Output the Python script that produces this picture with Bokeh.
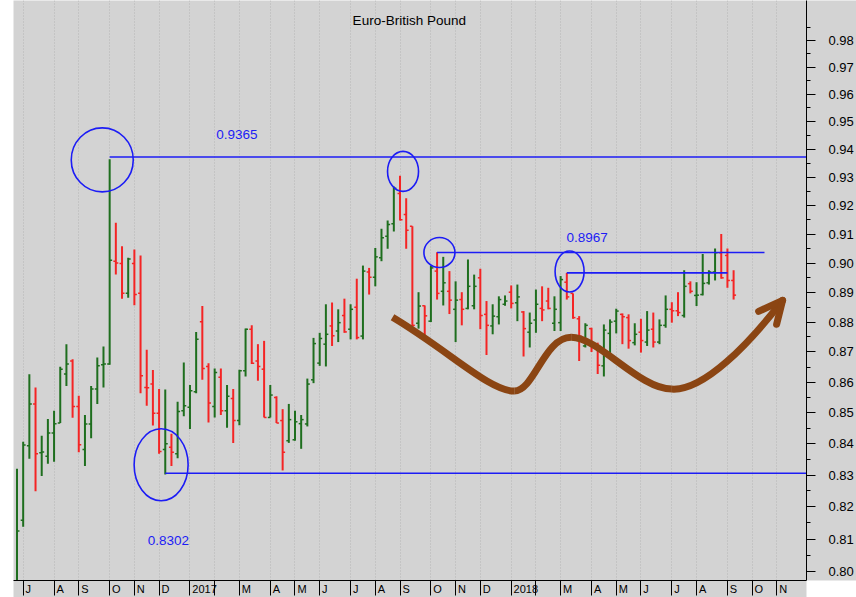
import numpy as np
import pandas as pd
from bokeh.plotting import figure
from bokeh.models import FixedTicker, PrintfTickFormatter, Range1d, Label, ColumnDataSource
from bokeh.embed import file_html
from bokeh.resources import INLINE

chart_title = "Euro-British Pound"
first_week = "2016-06-24"   # weekly bars, dated Fridays

opens = [
    0.7630, 0.8158, 0.8394, 0.8529, 0.8371, 0.8360, 0.8435, 0.8467, 0.8627, 0.8670,
    0.8521, 0.8382, 0.8464, 0.8578, 0.8658, 0.8660, 0.9007, 0.8999, 0.8897, 0.8999,
    0.8897, 0.8583, 0.8594, 0.8499, 0.8382, 0.8389, 0.8368, 0.8507, 0.8518, 0.8569,
    0.8801, 0.8652, 0.8521, 0.8616, 0.8507, 0.8547, 0.8475, 0.8638, 0.8776, 0.8670,
    0.8643, 0.8485, 0.8550, 0.8475, 0.8410, 0.8413, 0.8465, 0.8464, 0.8608, 0.8663,
    0.8726, 0.8787, 0.8770, 0.8822, 0.8776, 0.8850, 0.8753, 0.8970, 0.8952, 0.9019,
    0.9093, 0.9137, 0.9243, 0.9169, 0.9128, 0.8796, 0.8855, 0.8803, 0.8973, 0.8904,
    0.8904, 0.8843, 0.8876, 0.8846, 0.8855, 0.8950, 0.8826, 0.8787, 0.8818, 0.8860,
    0.8901, 0.8865, 0.8834, 0.8766, 0.8807, 0.8846, 0.8871, 0.8796, 0.8798, 0.8935,
    0.8897, 0.8811, 0.8720, 0.8778, 0.8709, 0.8654, 0.8762, 0.8803, 0.8826, 0.8815,
    0.8731, 0.8766, 0.8733, 0.8776, 0.8733, 0.8789, 0.8843, 0.8838, 0.8822, 0.8930,
    0.8890, 0.8893, 0.8933, 0.8970, 0.9036, 0.9027, 0.8941,
]
highs = [
    0.8320, 0.8407, 0.8626, 0.8583, 0.8426, 0.8480, 0.8507, 0.8651, 0.8726, 0.8676,
    0.8556, 0.8493, 0.8588, 0.8682, 0.8718, 0.9365, 0.9140, 0.9059, 0.9019, 0.9047,
    0.9027, 0.8707, 0.8640, 0.8578, 0.8576, 0.8432, 0.8536, 0.8665, 0.8591, 0.8767,
    0.8854, 0.8663, 0.8645, 0.8645, 0.8591, 0.8578, 0.8641, 0.8778, 0.8789, 0.8726,
    0.8737, 0.8591, 0.8554, 0.8512, 0.8529, 0.8507, 0.8493, 0.8612, 0.8747, 0.8764,
    0.8860, 0.8866, 0.8843, 0.8879, 0.8860, 0.8947, 0.8992, 0.8984, 0.9053, 0.9119,
    0.9148, 0.9268, 0.9306, 0.9226, 0.9128, 0.8901, 0.8856, 0.8992, 0.9038, 0.9022,
    0.8973, 0.8938, 0.8901, 0.9013, 0.8961, 0.8981, 0.8871, 0.8860, 0.8887, 0.8890,
    0.8924, 0.8927, 0.8837, 0.8832, 0.8910, 0.8921, 0.8916, 0.8887, 0.8956, 0.8967,
    0.8897, 0.8820, 0.8796, 0.8781, 0.8731, 0.8792, 0.8809, 0.8845, 0.8829, 0.8826,
    0.8796, 0.8811, 0.8837, 0.8832, 0.8809, 0.8890, 0.8867, 0.8901, 0.8976, 0.8938,
    0.8935, 0.9032, 0.8976, 0.9051, 0.9101, 0.9051, 0.8976,
]
lows = [
    0.7600, 0.8138, 0.8352, 0.8249, 0.8297, 0.8336, 0.8343, 0.8467, 0.8588, 0.8484,
    0.8373, 0.8329, 0.8418, 0.8529, 0.8583, 0.8658, 0.8961, 0.8879, 0.8882, 0.8857,
    0.8564, 0.8523, 0.8459, 0.8368, 0.8302, 0.8329, 0.8354, 0.8489, 0.8448, 0.8564,
    0.8608, 0.8469, 0.8485, 0.8493, 0.8452, 0.8403, 0.8460, 0.8619, 0.8660, 0.8605,
    0.8485, 0.8485, 0.8467, 0.8315, 0.8403, 0.8410, 0.8384, 0.8456, 0.8597, 0.8654,
    0.8652, 0.8720, 0.8733, 0.8764, 0.8742, 0.8742, 0.8742, 0.8893, 0.8921, 0.9007,
    0.9050, 0.9110, 0.9148, 0.9050, 0.8781, 0.8778, 0.8742, 0.8800, 0.8876, 0.8856,
    0.8827, 0.8733, 0.8789, 0.8843, 0.8843, 0.8776, 0.8690, 0.8759, 0.8792, 0.8855,
    0.8846, 0.8803, 0.8685, 0.8715, 0.8764, 0.8803, 0.8843, 0.8770, 0.8770, 0.8876,
    0.8811, 0.8670, 0.8715, 0.8700, 0.8627, 0.8619, 0.8692, 0.8762, 0.8726, 0.8711,
    0.8722, 0.8698, 0.8720, 0.8715, 0.8726, 0.8781, 0.8798, 0.8820, 0.8815, 0.8897,
    0.8854, 0.8890, 0.8927, 0.8941, 0.8947, 0.8916, 0.8876,
]
closes = [
    0.8125, 0.8396, 0.8529, 0.8368, 0.8374, 0.8435, 0.8465, 0.8643, 0.8660, 0.8521,
    0.8397, 0.8464, 0.8578, 0.8654, 0.8660, 0.9010, 0.9001, 0.8897, 0.9015, 0.8893,
    0.8621, 0.8582, 0.8499, 0.8375, 0.8400, 0.8373, 0.8504, 0.8523, 0.8572, 0.8742,
    0.8645, 0.8532, 0.8632, 0.8507, 0.8554, 0.8475, 0.8638, 0.8776, 0.8663, 0.8652,
    0.8485, 0.8558, 0.8467, 0.8373, 0.8478, 0.8471, 0.8478, 0.8594, 0.8728, 0.8745,
    0.8759, 0.8754, 0.8798, 0.8767, 0.8843, 0.8748, 0.8973, 0.8952, 0.9022, 0.9088,
    0.9134, 0.9262, 0.9151, 0.9114, 0.8789, 0.8854, 0.8821, 0.8984, 0.8897, 0.8933,
    0.8874, 0.8874, 0.8843, 0.8921, 0.8921, 0.8822, 0.8789, 0.8820, 0.8876, 0.8871,
    0.8863, 0.8885, 0.8778, 0.8796, 0.8860, 0.8841, 0.8846, 0.8843, 0.8944, 0.8885,
    0.8815, 0.8753, 0.8789, 0.8715, 0.8656, 0.8773, 0.8800, 0.8837, 0.8818, 0.8738,
    0.8759, 0.8738, 0.8773, 0.8733, 0.8789, 0.8843, 0.8838, 0.8832, 0.8921, 0.8904,
    0.8891, 0.8931, 0.8970, 0.9036, 0.8950, 0.8941, 0.8891,
]

# price axis ticks
y_major = [0.80, 0.81, 0.82, 0.83, 0.84, 0.85, 0.86, 0.87, 0.88, 0.89,
           0.90, 0.91, 0.92, 0.93, 0.94, 0.95, 0.96, 0.97, 0.98]
y_minor = [0.805, 0.815, 0.825, 0.835, 0.845, 0.855, 0.865, 0.875, 0.885, 0.895,
           0.905, 0.915, 0.925, 0.935, 0.945, 0.955, 0.965, 0.975, 0.985]

# drawn horizontal levels (price, from week, to week) and their captions
level_prices = [0.9373, 0.8306, 0.9037, 0.8967]
level_from = [14, 23, 67, 88]
level_to = [140, 140, 120, 114]
level_texts = ["0.9365", "0.8302", "0.8967"]
level_text_x = [34.6, 23.5, 91.3]
level_text_y = [0.9452, 0.8095, 0.9088]

# circled points (week, price, screen width, screen height)
circle_x = [12.8, 22.33, 61.49, 67.38, 88.45]
circle_y = [0.93624, 0.83329, 0.93214, 0.90368, 0.89717]
circle_w = [62, 54, 31, 31, 29]
circle_h = [64, 72, 40, 30, 41]

# hand-drawn brown path (cubic bezier pieces) + arrow head
bz_x0 = [59.79, 79.49, 88.70, 105.01]
bz_y0 = [0.88159, 0.85710, 0.87490, 0.85775]
bz_cx0 = [68.99, 82.72, 93.22, 110.17]
bz_cy0 = [0.87025, 0.85710, 0.87490, 0.85710]
bz_cx1 = [75.46, 84.34, 99.68, 117.44]
bz_cy1 = [0.85710, 0.87490, 0.85775, 0.87256]
bz_x1 = [79.49, 88.70, 105.01, 122.93]
bz_y1 = [0.85710, 0.87490, 0.85775, 0.88732]
head_x = [119.05, 121.96]
head_y = [0.88362, 0.87925]

# ---------------------------------------------------------------
dates = pd.date_range(first_week, periods=len(opens), freq="W-FRI")
origin = pd.Timestamp("2016-07-01")
xw = ((dates - origin).days / 7.0).to_numpy()

up = np.array(closes) >= np.array(opens)
GREEN, RED = "#1e6e1e", "#f42424"
colors = [GREEN if u else RED for u in up]

src = ColumnDataSource(dict(x=xw, xl=xw - 0.4, xr=xw + 0.4, o=opens, h=highs,
                            l=lows, c=closes, color=colors))

# month ticks: first weekly bar of each month
months = pd.date_range("2016-07-01", "2018-11-01", freq="MS")
def first_friday(d):
    return d + pd.Timedelta(days=(4 - d.weekday()) % 7)
month_x = [round((first_friday(d) - origin).days / 7.0, 4) for d in months]
letters = "JFMAMJJASOND"
char_w = {"J": 5.5, "A": 7.3, "S": 7.3, "O": 8.6, "N": 7.9, "D": 7.9, "M": 9.2}
PX_PER_WEEK = 6.193
lab_pos, lab_txt = [], []
for d, mx in zip(months, month_x):
    if d.month == 2:
        continue
    t = str(d.year) if d.month == 1 else letters[d.month - 1]
    w = sum(char_w.get(ch, 6.1) for ch in t)
    pos = round(mx + (2.4 + w / 2) / PX_PER_WEEK, 4)
    lab_pos.append(pos)
    lab_txt.append(t)

BG = "#d3d3d3"
FONT = "Liberation Sans"

p = figure(width=856, height=597, output_backend="svg", toolbar_location=None,
           y_axis_type="log", y_axis_location="right",
           x_range=Range1d(-1.566, 126.8), y_range=Range1d(0.79726, 0.99504),
           min_border_left=13, min_border_top=0, min_border_right=48, min_border_bottom=15)
p.background_fill_color = BG
p.border_fill_color = "white"
p.outline_line_color = None

# x axis: separators as minor ticks, labels right of them
xa = p.xaxis[0]
xa.ticker = FixedTicker(ticks=lab_pos, minor_ticks=month_x)
xa.major_label_overrides = {k: v for k, v in zip(lab_pos, lab_txt)}
xa.major_tick_out = 0
xa.major_tick_in = 0
xa.minor_tick_out = 15
xa.minor_tick_in = 0
xa.minor_tick_line_color = "black"
xa.axis_line_color = "black"
xa.major_label_standoff = -13
xa.major_label_text_font = FONT
xa.major_label_text_font_size = "11px"
xa.major_label_text_color = "black"
try:
    xa.background_fill_color = BG
except Exception:
    pass

ya = p.yaxis[0]
ya.ticker = FixedTicker(ticks=y_major, minor_ticks=y_minor)
ya.formatter = PrintfTickFormatter(format="%.2f")
ya.major_tick_out = 9
ya.major_tick_in = 0
ya.minor_tick_out = 4
ya.minor_tick_in = 0
ya.major_label_standoff = 13
ya.major_label_text_font = FONT
ya.major_label_text_font_size = "13px"
ya.major_label_text_color = "black"
ya.axis_line_color = "black"
try:
    ya.background_fill_color = BG
except Exception:
    pass

p.ygrid.visible = False
p.xgrid.ticker = FixedTicker(ticks=month_x)
p.xgrid.grid_line_color = "#b4b4b4"
p.xgrid.grid_line_dash = "1 2"
p.xgrid.grid_line_width = 1

# OHLC bars
p.segment("x", "l", "x", "h", color="color", line_width=2, source=src)
p.segment("xl", "o", "x", "o", color="color", line_width=1.5, source=src)
p.segment("x", "c", "xr", "c", color="color", line_width=1.5, source=src)

# levels
BLUE = "#1c1cf5"
p.segment(level_from, level_prices, level_to, level_prices, color=BLUE, line_width=1.6)
for t, lx, ly in zip(level_texts, level_text_x, level_text_y):
    p.add_layout(Label(x=lx, y=ly, text=t, text_align="center", text_baseline="middle",
                       text_color=BLUE, text_font=FONT, text_font_size="13.5px"))

p.ellipse(x=circle_x, y=circle_y, width=circle_w, height=circle_h,
          width_units="screen", height_units="screen",
          fill_color=None, line_color=BLUE, line_width=1.6)

BROWN = "#8b4513"
p.bezier(x0=bz_x0, y0=bz_y0, x1=bz_x1, y1=bz_y1, cx0=bz_cx0, cy0=bz_cy0,
         cx1=bz_cx1, cy1=bz_cy1, line_color=BROWN, line_width=7, line_cap="butt")
p.segment([bz_x1[-1]] * 2, [bz_y1[-1]] * 2, head_x, head_y,
          line_color=BROWN, line_width=7, line_cap="round")

p.add_layout(Label(x=62.5, y=0.9875, text=chart_title, text_align="center",
                   text_baseline="middle", text_color="black", text_font=FONT,
                   text_font_size="13.5px"))

open("out.html", "w").write(file_html(p, INLINE))
